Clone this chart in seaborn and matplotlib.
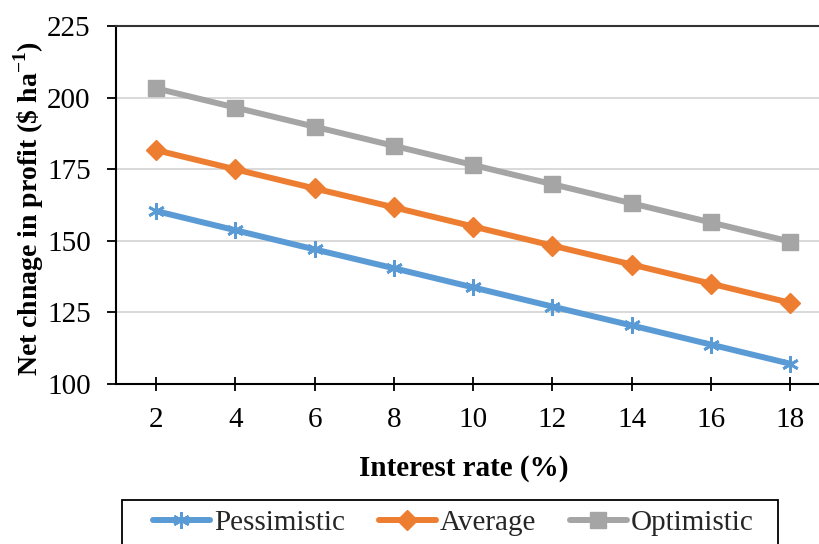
import matplotlib
matplotlib.use("Agg")
import matplotlib.pyplot as plt
import seaborn as sns
import pandas as pd
from matplotlib.patches import Rectangle

# Net change in profit by interest rate, three price scenarios
rates = [2, 4, 6, 8, 10, 12, 14, 16, 18]
pessimistic = [160.4, 153.7, 147.0, 140.4, 133.7, 127.0, 120.4, 113.7, 107.0]
average = [181.7, 175.0, 168.3, 161.7, 155.0, 148.3, 141.7, 135.0, 128.3]
optimistic = [203.3, 196.6, 189.9, 183.2, 176.5, 169.8, 163.1, 156.4, 149.7]
y_ticks = [100, 125, 150, 175, 200, 225]

sns.set_theme(style="white")
plt.rcParams["font.family"] = ["Liberation Serif", "DejaVu Serif"]
plt.rcParams["mathtext.fontset"] = "custom"
plt.rcParams["mathtext.rm"] = "Liberation Serif"
plt.rcParams["mathtext.bf"] = "Liberation Serif:bold"

FS = 21
W, H = 819, 544
fig = plt.figure(figsize=(W / 100, H / 100), dpi=100)
fig.patch.set_facecolor("white")

# plot area (pixel geometry); right edge runs past the figure border
left, right, top, bottom = 116.4, 830.0, 26.3, 383.8
ax = fig.add_axes([left / W, 1 - bottom / H, (right - left) / W, (bottom - top) / H])
ax.set_facecolor("white")

series = [
    ("Pessimistic", pessimistic, "#5B9BD5", (6, 2, 0), 12, 2.0),
    ("Average", average, "#ED7D31", "D", 10, 1.0),
    ("Optimistic", optimistic, "#A5A5A5", "s", 11, 1.0),
]

for name, vals, color, marker, ms, mew in series:
    df = pd.DataFrame({"rate": rates, "profit": vals})
    sns.lineplot(data=df, x="rate", y="profit", ax=ax, color=color, lw=4.3,
                 marker=marker, markersize=ms, markeredgewidth=mew,
                 markeredgecolor=color, markerfacecolor=color, label=name,
                 zorder=3)

handles, labels = ax.get_legend_handles_labels()
if ax.get_legend() is not None:
    ax.get_legend().remove()

ax.set_xlim(1, 19)
ax.set_ylim(100, 225)
ax.set_xticks(rates)
ax.set_xticklabels([str(r) for r in rates])
ax.set_yticks(y_ticks)
ax.set_yticklabels([str(t) for t in y_ticks])
ax.set_xlabel("")
ax.set_ylabel("")

ax.yaxis.grid(True, color="#D9D9D9", lw=1.4, zorder=0)
ax.xaxis.grid(False)

ax.spines["right"].set_visible(False)
for s in ["left", "bottom", "top"]:
    ax.spines[s].set_visible(True)
    ax.spines[s].set_color("black")
    ax.spines[s].set_linewidth(1.5)
ax.spines["top"].set_color("#333333")

ax.tick_params(axis="y", direction="out", length=6.5, width=1.3, color="black",
               pad=12, labelsize=FS, labelcolor="black", left=True)
ax.tick_params(axis="x", direction="inout", length=9.5, width=1.3, color="black",
               pad=12, labelsize=FS, labelcolor="black", bottom=True)

fig.text(29 / W, 1 - 209 / H, r"Net chnage in profit (\$ ha$^{\mathbf{-1}}$)",
         rotation=90, ha="center", va="center", fontsize=20, fontweight="bold",
         color="black")
fig.text(464 / W, 1 - 468 / H, "Interest rate (%)", ha="center", va="center",
         fontsize=FS, fontweight="bold", color="black")

# legend frame, open at the bottom edge of the figure
fig.add_artist(Rectangle((122 / W, -0.05), (778 - 122) / W, 0.05 + 1 - 500 / H,
                         transform=fig.transFigure, fill=False,
                         edgecolor="black", lw=1.3))
fig.legend(handles, labels, loc="center left",
           bbox_to_anchor=(153 / W, 1 - 523 / H), ncol=3, frameon=False,
           fontsize=FS, handlelength=1.95, handletextpad=0.15,
           columnspacing=1.15, borderpad=0, borderaxespad=0)

fig.savefig("out.png", dpi=100, facecolor="white")
